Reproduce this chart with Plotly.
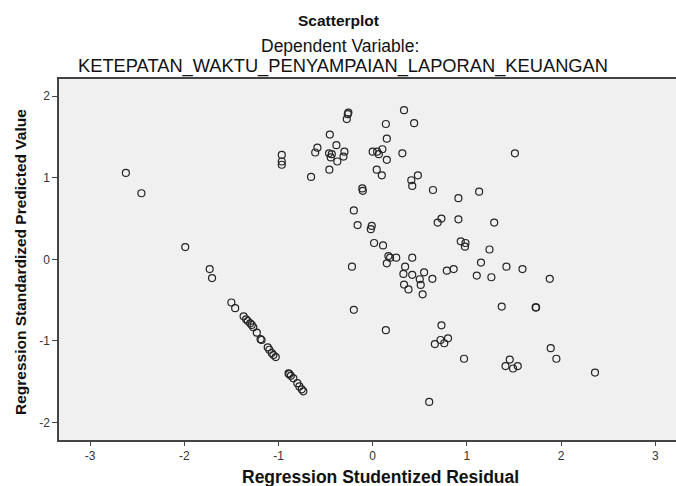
import plotly.graph_objects as go

residual = [
    -2.62, -2.455, -1.99, -1.73, -1.705,
    -1.50, -1.46, -1.37, -1.344, -1.326, -1.30, -1.284, -1.267, -1.23, -1.19,
    -1.114, -1.097, -1.071, -1.054, -1.029, -0.893, -0.869, -0.842, -0.80,
    -0.778, -0.753, -0.736, -1.18, -0.885,
    -0.965, -0.965, -0.965, -0.654, -0.587, -0.61, -0.455, -0.385, -0.463,
    -0.434, -0.445, -0.375, -0.30, -0.31, -0.46, -0.258, -0.264, -0.275,
    -0.11, -0.105, -0.20, -0.16, -0.01, -0.02, 0.015, -0.22, -0.20,
    0.00, 0.047, 0.065, 0.103, 0.15, 0.043, 0.097, 0.14, 0.15, 0.333, 0.44,
    0.315, 1.51, 0.41, 0.42, 0.48, 0.64, 1.13, 0.91, 0.11, 0.73, 0.69, 0.91,
    1.29, 0.935, 0.985, 0.98, 1.24, 0.167, 0.185, 0.25, 0.15, 0.42, 0.344,
    0.326, 0.42, 0.546, 0.50, 0.634, 0.787, 0.86, 0.333, 0.38, 0.51, 0.53,
    1.15, 1.105, 1.26, 1.42, 1.59, 1.88, 0.14, 0.73, 0.66, 0.72, 0.76, 0.80,
    0.97, 1.37, 1.73, 1.735, 1.455, 1.41, 1.49, 1.54, 1.89, 1.95, 2.36, 0.60,
]
predicted = [
    1.06, 0.81, 0.15, -0.12, -0.23,
    -0.53, -0.60, -0.70, -0.736, -0.757, -0.785, -0.806, -0.834, -0.90, -0.98,
    -1.08, -1.11, -1.15, -1.175, -1.20, -1.40, -1.43, -1.46, -1.52,
    -1.56, -1.595, -1.62, -0.99, -1.41,
    1.28, 1.20, 1.16, 1.01, 1.37, 1.31, 1.53, 1.40, 1.30,
    1.29, 1.25, 1.20, 1.32, 1.26, 1.10, 1.80, 1.78, 1.72,
    0.87, 0.84, 0.60, 0.42, 0.41, 0.37, 0.20, -0.09, -0.62,
    1.32, 1.32, 1.29, 1.35, 1.22, 1.10, 1.03, 1.66, 1.48, 1.83, 1.67,
    1.30, 1.30, 0.97, 0.90, 1.03, 0.85, 0.83, 0.75, 0.17, 0.50, 0.45, 0.49,
    0.45, 0.22, 0.20, 0.155, 0.12, 0.04, 0.02, 0.02, -0.05, 0.02, -0.09,
    -0.18, -0.19, -0.16, -0.245, -0.24, -0.14, -0.12, -0.31, -0.37, -0.315, -0.43,
    -0.04, -0.20, -0.22, -0.09, -0.12, -0.24, -0.87, -0.81, -1.04, -0.99, -1.03, -0.97,
    -1.22, -0.58, -0.59, -0.59, -1.23, -1.31, -1.34, -1.31, -1.09, -1.22, -1.39, -1.75,
]

x_ticks = [-3, -2, -1, 0, 1, 2, 3]
x_tick_labels = ["-3", "-2", "-1", "0", "1", "2", "3"]
y_ticks = [-2, -1, 0, 1, 2]
y_tick_labels = ["-2", "-1", "0", "1", "2"]

title_main = "Scatterplot"
title_sub1 = "Dependent Variable:"
title_sub2 = "KETEPATAN_WAKTU_PENYAMPAIAN_LAPORAN_KEUANGAN"
x_title = "Regression Studentized Residual"
y_title = "Regression Standardized Predicted Value"

FONT = "Liberation Sans, Arial, sans-serif"
W, H = 676, 486
ML, MR, MT, MB = 59, 0, 79, 46
PW, PH = W - ML - MR, H - MT - MB


def px_to_paper(px, py):
    return (px - ML) / PW, (H - MB - py) / PH


fig = go.Figure()
fig.add_trace(go.Scatter(
    x=residual, y=predicted, mode="markers",
    marker=dict(symbol="circle-open", size=7, color="#252525",
                line=dict(width=1.2, color="#252525")),
    hoverinfo="x+y", showlegend=False,
))


def ann(text, px, py, size, bold=False, angle=0):
    x, y = px_to_paper(px, py)
    return dict(text=("<b>%s</b>" % text) if bold else text, x=x, y=y,
                xref="paper", yref="paper", xanchor="center", yanchor="middle",
                showarrow=False, textangle=angle,
                font=dict(size=size, color="#111", family=FONT))


fig.update_layout(
    width=W, height=H,
    margin=dict(l=ML, r=MR, t=MT, b=MB, pad=0),
    paper_bgcolor="white", plot_bgcolor="#f0f0f0",
    font=dict(family=FONT, color="#222"),
    xaxis=dict(
        range=[-3.33, 3.22], tickvals=x_ticks, ticktext=x_tick_labels,
        ticks="outside", ticklen=4,
        tickcolor="#444", tickwidth=1.3, showline=True, linecolor="#444",
        linewidth=1.5, mirror=True, showgrid=False, zeroline=False,
        tickfont=dict(size=12, color="#333"),
    ),
    yaxis=dict(
        range=[-2.217, 2.212], tickvals=y_ticks, ticktext=y_tick_labels,
        ticks="outside", ticklen=5,
        tickcolor="#444", tickwidth=1.3, showline=True, linecolor="#444",
        linewidth=1.5, showgrid=False, zeroline=False,
        tickfont=dict(size=12, color="#333"),
    ),
    annotations=[
        ann(title_main, 338, 20, 15.5, bold=True),
        ann(title_sub1, 340, 45.5, 17.5),
        ann(title_sub2, 343, 66, 18.3),
        ann(x_title, 380, 477, 17.5, bold=True),
        ann(y_title, 20, 262, 15.5, bold=True, angle=-90),
    ],
)

fig.write_html("out.html", config={"displayModeBar": False})

# remove default browser body margin so the figure sits at the page corner
with open("out.html", "r", encoding="utf-8") as f:
    html = f.read()
html = html.replace("<head>", "<head><style>html,body{margin:0;padding:0;}</style>", 1)
with open("out.html", "w", encoding="utf-8") as f:
    f.write(html)
